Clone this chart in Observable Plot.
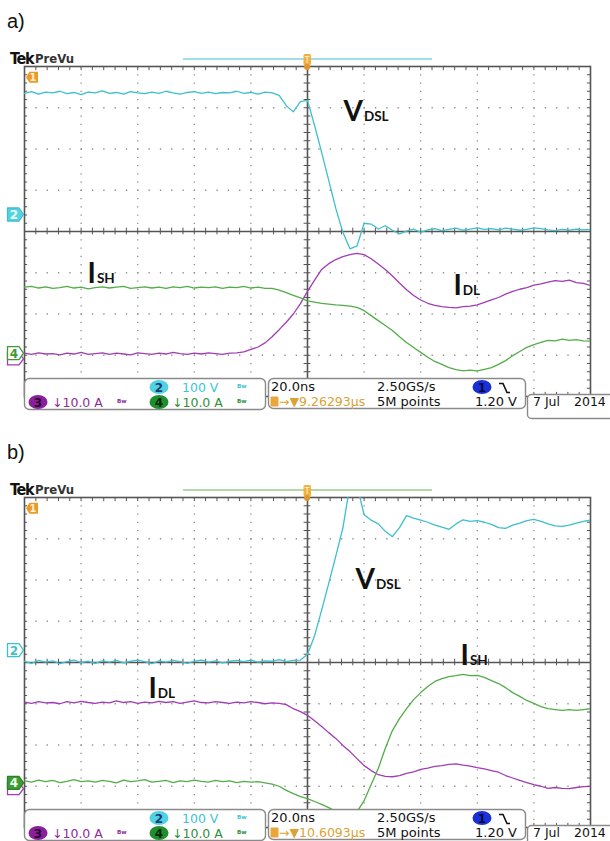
<!DOCTYPE html>
<html>
<head>
<meta charset="utf-8">
<script src="https://cdn.jsdelivr.net/npm/d3@7"></script>
<script src="https://cdn.jsdelivr.net/npm/@observablehq/plot@0.6"></script>
<style>
  html, body { margin: 0; padding: 0; background: #fff; }
  #page { position: relative; width: 610px; height: 841px; overflow: hidden; background: #fff; }
  .panel { position: absolute; left: 0; width: 610px; height: 410px; }
  .panel svg { position: absolute; left: 0; top: 0; }
  .tag { position: absolute; left: 7px; font-family: "Liberation Sans", Arial, sans-serif; font-size: 20px; line-height: 20px; color: #111; }
</style>
</head>
<body>
<div id="page"></div>
<script>
// ---------- data (x in ns, trigger at 0; y in screen divisions, centre = 0) ----------
const time = [
  -100,-97.5,-95,-92.5,-90,-87.5,-85,-82.5,-80,-77.5,
  -75,-72.5,-70,-67.5,-65,-62.5,-60,-57.5,-55,-52.5,
  -50,-47.5,-45,-42.5,-40,-37.5,-35,-32.5,-30,-27.5,
  -25,-22.5,-20,-17.5,-15,-12.5,-10,-7.5,-5,-2.5,
  0,2.5,5,7.5,10,12.5,15,17.5,20,22.5,
  25,27.5,30,32.5,35,37.5,40,42.5,45,47.5,
  50,52.5,55,57.5,60,62.5,65,67.5,70,72.5,
  75,77.5,80,82.5,85,87.5,90,92.5,95,97.5,
  100
];

// panel a) channel 2 (V_DSL), channel 4 (I_SH), channel 3 (I_DL)
const aVdsl = [
  3.35,3.39,3.33,3.38,3.36,3.40,3.34,3.37,3.32,3.38,
  3.36,3.41,3.35,3.37,3.33,3.39,3.36,3.34,3.38,3.35,
  3.40,3.36,3.33,3.37,3.39,3.35,3.38,3.34,3.37,3.36,
  3.40,3.35,3.37,3.33,3.38,
  3.36,3.30,3.05,2.90,3.15,3.18,2.57,1.92,1.24,0.56,-0.02,-0.42,-0.35,0.20,0.18,0.06,0.14,0.03,-0.06,0.01,0.06,-0.02,
  0.04,0.07,0.02,0.05,0.08,0.03,0.06,0.09,0.05,0.07,0.04,0.08,0.06,0.03,0.05,0.09,0.07,0.04,0.02,0.05,0.03,0.06,0.04,0.05
];
const aIsh = [
  -1.35,-1.33,-1.37,-1.34,-1.38,-1.36,-1.33,-1.37,-1.35,-1.39,
  -1.36,-1.34,-1.37,-1.35,-1.33,-1.38,-1.36,-1.34,-1.37,-1.35,
  -1.38,-1.34,-1.36,-1.33,-1.37,-1.35,-1.36,-1.34,-1.38,-1.35,
  -1.36,-1.33,-1.37,-1.35,-1.38,
  -1.38,-1.42,-1.48,-1.55,-1.61,-1.68,-1.71,-1.74,-1.76,-1.78,
  -1.79,-1.81,-1.84,-1.92,-2.04,-2.16,-2.28,-2.40,-2.55,-2.69,
  -2.81,-2.93,-3.05,-3.15,-3.22,-3.30,-3.35,-3.38,-3.36,-3.38,
  -3.34,-3.30,-3.22,-3.13,-3.01,-2.91,-2.81,-2.74,-2.69,-2.64,
  -2.65,-2.61,-2.64,-2.62,-2.65,-2.66
];
const aIdl = [
  -2.95,-2.98,-2.94,-2.97,-2.96,-2.99,-2.95,-2.97,-2.93,-2.98,
  -2.96,-2.94,-2.98,-2.95,-2.97,-2.99,-2.94,-2.96,-2.98,-2.95,
  -2.97,-2.93,-2.96,-2.98,-2.95,-2.97,-2.94,-2.96,-2.98,-2.95,
  -2.94,-2.92,-2.86,-2.80,-2.70,-2.55,-2.38,-2.20,-2.00,-1.75,
  -1.45,-1.18,-0.92,-0.78,-0.68,-0.61,-0.56,-0.53,-0.56,-0.66,
  -0.79,-0.92,-1.08,-1.25,-1.41,-1.55,-1.66,-1.74,-1.79,-1.82,
  -1.84,-1.85,-1.82,-1.81,-1.78,-1.72,-1.66,-1.60,-1.52,-1.45,
  -1.40,-1.36,-1.30,-1.27,-1.23,-1.19,-1.21,-1.18,-1.24,-1.26,
  -1.31
];

// panel b)
const bVdsl = [
  0.03,-0.02,0.05,0.01,0.04,-0.03,0.02,0.06,0.00,0.03,
  -0.02,0.04,0.01,0.05,-0.01,0.03,0.06,0.02,-0.03,0.04,
  0.01,0.05,0.02,-0.02,0.03,0.06,0.01,0.04,-0.01,0.03,
  0.05,0.02,0.06,0.01,0.04,0.03,0.07,0.02,0.05,0.06,
  0.20,0.65,1.27,1.92,2.58,3.26,4.3,4.3,3.58,3.45,
  3.36,3.18,3.05,3.27,3.56,3.50,3.45,3.40,3.33,3.28,
  3.23,3.36,3.46,3.42,3.44,3.40,3.35,3.27,3.25,3.33,
  3.38,3.44,3.47,3.42,3.36,3.31,3.30,3.33,3.38,3.42,
  3.45
];
const bIdl = [
  -0.96,-0.99,-0.95,-0.98,-0.97,-1.00,-0.95,-0.98,-0.94,-0.97,
  -0.99,-0.96,-0.98,-0.93,-0.97,-0.95,-0.99,-0.96,-0.98,-0.94,
  -0.97,-0.95,-0.99,-0.96,-0.93,-0.97,-0.98,-0.95,-0.97,-0.99,
  -0.96,-0.98,-0.95,-0.97,-1.00,-0.98,
  -0.99,-1.02,-1.12,-1.19,-1.28,-1.41,-1.55,-1.70,-1.84,-2.01,
  -2.16,-2.33,-2.50,-2.62,-2.72,-2.76,-2.77,-2.74,-2.69,-2.65,
  -2.59,-2.56,-2.52,-2.50,-2.47,-2.46,-2.49,-2.51,-2.55,-2.58,
  -2.62,-2.66,-2.74,-2.80,-2.86,-2.91,-2.96,-3.00,-3.05,-3.03,
  -3.05,-3.06,-3.03,-3.01,-3.00
];
const bIsh = [
  -2.87,-2.90,-2.85,-2.89,-2.86,-2.91,-2.88,-2.84,-2.89,-2.87,
  -2.90,-2.86,-2.88,-2.92,-2.85,-2.89,-2.87,-2.84,-2.90,-2.88,
  -2.86,-2.91,-2.87,-2.89,-2.85,-2.88,-2.90,-2.86,-2.89,-2.87,
  -2.91,-2.88,-2.90,-2.89,
  -2.92,-2.95,-3.00,-3.10,-3.18,-3.25,-3.30,-3.37,-3.44,-3.52,
  -3.61,-3.71,-3.75,-3.62,-3.35,-2.96,-2.57,-2.08,-1.65,-1.36,
  -1.12,-0.90,-0.73,-0.58,-0.46,-0.39,-0.34,-0.32,-0.29,-0.32,
  -0.31,-0.36,-0.44,-0.51,-0.61,-0.73,-0.82,-0.92,-0.99,-1.07,
  -1.12,-1.14,-1.16,-1.14,-1.16,-1.14,-1.12
];

// trace annotations (main letter | subscript)
const aLabels = [
  {t: 12.7, v: 2.69, txt: "V|DSL"},
  {t: -77.7, v: -1.24, txt: "I|SH"},
  {t: 51.6, v: -1.55, txt: "I|DL"}
];
const bLabels = [
  {t: 17.0, v: 1.79, txt: "V|DSL"},
  {t: 54.1, v: -0.07, txt: "I|SH"},
  {t: -56.2, v: -0.85, txt: "I|DL"}
];

// channel ground reference levels (divisions)
const aRefs = {ch1: 3.73, ch2: 0.40, ch3: -3.10, ch4: -2.96};
const bRefs = {ch1: 3.73, ch2: 0.29, ch3: -3.07, ch4: -2.93};

// scope readouts
const chScale = {ch2: "100 V", ch3: "\u219310.0 A", ch4: "\u219310.0 A"};
const horiz = {timeDiv: "20.0ns", rate: "2.50GS/s", points: "5M points", level: "1.20 V", date: ["7 Jul", "2014"]};
const aDelay = "9.26293\u00b5s";
const bDelay = "10.6093\u00b5s";

// graticule
const gridX = [-80, -60, -40, -20, 20, 40, 60, 80];
const gridY = [-3, -2, -1, 1, 2, 3];
const minorX = d3.range(-96, 97, 4);
const minorY = d3.range(-3.8, 3.81, 0.2).filter(v => Math.abs(v) > 0.05);

const COL = {cyan: "#3dbfcc", magenta: "#a03cb4", green: "#52ad48", grid: "#8e8e8e", frame: "#555"};

function buildPanel(cfg) {
  const plot = Plot.plot({
    width: 610, height: 410,
    marginTop: 66, marginBottom: 14, marginLeft: 24, marginRight: 20,
    x: {domain: [-100, 100], axis: null},
    y: {domain: [-4, 4], axis: null},
    style: {fontFamily: "Lato, 'Open Sans', sans-serif", background: "white", overflow: "visible"},
    marks: [
      Plot.ruleY(gridY, {stroke: COL.grid, strokeWidth: 1.3, strokeDasharray: "1.3,10.02"}),
      Plot.ruleX(gridX, {stroke: COL.grid, strokeWidth: 1.3, strokeDasharray: "1.3,6.95"}),
      Plot.ruleX(minorX, {y1: -0.08, y2: 0.08, stroke: COL.frame, strokeWidth: 1}),
      Plot.ruleY(minorY, {x1: -1.2, x2: 1.2, stroke: COL.frame, strokeWidth: 1}),
      Plot.ruleX(minorX, {y1: 3.9, y2: 4, stroke: COL.frame, strokeWidth: 1}),
      Plot.ruleX(minorX, {y1: -4, y2: -3.9, stroke: COL.frame, strokeWidth: 1}),
      Plot.ruleY(minorY, {x1: -100, x2: -98.9, stroke: COL.frame, strokeWidth: 1}),
      Plot.ruleY(minorY, {x1: 98.9, x2: 100, stroke: COL.frame, strokeWidth: 1}),
      Plot.ruleY([0], {stroke: COL.frame, strokeWidth: 1.6}),
      Plot.ruleX([0], {stroke: COL.frame, strokeWidth: 1.6}),
      Plot.frame({stroke: COL.frame, strokeWidth: 1.6}),
      Plot.lineY(cfg.ch3, {x: time, stroke: COL.magenta, strokeWidth: 1.3, clip: true}),
      Plot.lineY(cfg.ch4, {x: time, stroke: COL.green, strokeWidth: 1.3, clip: true}),
      Plot.lineY(cfg.ch2, {x: time, stroke: COL.cyan, strokeWidth: 1.3, clip: true}),
      Plot.text(cfg.labels, {x: "t", y: "v", text: "txt", textAnchor: "start", lineAnchor: "bottom",
        fontSize: 28, fontWeight: "bold", fill: "#111"})
    ]
  });

  const svg = d3.select(plot);
  // subscripts
  svg.selectAll("text").each(function () {
    const s = this.textContent;
    if (s.includes("|")) {
      const [m, sub] = s.split("|");
      const el = d3.select(this).text(null);
      el.append("tspan").text(m);
      el.append("tspan").attr("font-size", 13.5).attr("dx", 1).text(sub);
    }
  });

  const ys = plot.scale("y");
  const yp = v => ys.apply(v);

  const deco = svg.append("g").attr("text-anchor", "start");
  // header
  deco.append("text").attr("x", 10).attr("y", 64)
    .attr("font-family", "'Liberation Sans Narrow','DejaVu Sans Condensed','Liberation Sans',sans-serif")
    .attr("font-weight", "bold").attr("font-size", 16).attr("fill", "#111").attr("letter-spacing", -1.2).text("Tek");
  deco.append("text").attr("x", 35).attr("y", 63)
    .attr("font-family", "'Liberation Sans Narrow','DejaVu Sans Condensed','Liberation Sans',sans-serif")
    .attr("font-weight", "bold").attr("font-size", 13).attr("fill", "#333").text("PreVu");
  deco.append("line").attr("x1", 183).attr("x2", 432).attr("y1", 59).attr("y2", 59)
    .attr("stroke", cfg.barColor).attr("stroke-width", 2.2);
  // trigger position marker
  deco.append("rect").attr("x", 303.5).attr("y", 54).attr("width", 7.5).attr("height", 11).attr("rx", 1.5).attr("fill", "#f0b040");
  deco.append("circle").attr("cx", 307).attr("cy", 67).attr("r", 3).attr("fill", "#e0962a");
  deco.append("text").attr("x", 307.2).attr("y", 62.5).attr("text-anchor", "middle").attr("font-size", 8)
    .attr("font-family", "DejaVu Sans").attr("fill", "#fff3d6").text("T");

  // channel reference markers
  const mk = (y, fill, stroke, label, txtFill) => {
    deco.append("path").attr("d", `M7.5,${y - 6.5}H19L23.5,${y}L19,${y + 6.5}H7.5Z`)
      .attr("fill", fill).attr("stroke", stroke).attr("stroke-width", 1.3).attr("stroke-linejoin", "round");
    deco.append("text").attr("x", 14).attr("y", y + 4.5).attr("text-anchor", "middle")
      .attr("font-family", "DejaVu Sans").attr("font-weight", "bold").attr("font-size", 12).attr("fill", txtFill).text(label);
  };
  const y3 = yp(cfg.refs.ch3);
  deco.append("path").attr("d", `M7.5,${y3 - 6}H19L23.5,${y3}L19,${y3 + 6}H7.5Z`)
    .attr("fill", "#fff").attr("stroke", COL.magenta).attr("stroke-width", 1.3);
  if (cfg.ch4Filled) mk(yp(cfg.refs.ch4), "#3f9a36", "#2e7f28", "4", "#e8ffe4");
  else mk(yp(cfg.refs.ch4), "#fff", "#3f9a36", "4", "#3f9a36");
  if (cfg.ch2Filled) mk(yp(cfg.refs.ch2), "#55d3e0", "#3fbfcc", "2", "#eaffff");
  else mk(yp(cfg.refs.ch2), "#fff", "#3fbfcc", "2", "#3fbfcc");
  const y1 = yp(cfg.refs.ch1);
  deco.append("path").attr("d", `M26,${y1}L29.5,${y1 - 5.5}H38V${y1 + 5.5}H29.5Z`).attr("fill", "#eb9a2a");
  deco.append("text").attr("x", 33).attr("y", y1 + 4).attr("text-anchor", "middle")
    .attr("font-family", "DejaVu Sans").attr("font-weight", "bold").attr("font-size", 10).attr("fill", "#fff0d0").text("1");

  // status bar
  const sb = svg.append("g").attr("font-family", "'DejaVu Sans', sans-serif").attr("text-anchor", "start");
  sb.append("rect").attr("x", 24.5).attr("y", 378.5).attr("width", 241).attr("height", 31).attr("rx", 5)
    .attr("fill", "#fff").attr("stroke", "#8a8a8a").attr("stroke-width", 1.4);
  sb.append("rect").attr("x", 268.5).attr("y", 378.5).attr("width", 257).attr("height", 30).attr("rx", 5)
    .attr("fill", "#fff").attr("stroke", "#8a8a8a").attr("stroke-width", 1.4);
  sb.append("rect").attr("x", 527.5).attr("y", 394.5).attr("width", 100).attr("height", 24).attr("rx", 4)
    .attr("fill", "#fff").attr("stroke", "#8a8a8a").attr("stroke-width", 1.4);

  const badge = (cx, cy, fill, label, tf) => {
    sb.append("ellipse").attr("cx", cx).attr("cy", cy).attr("rx", 9.5).attr("ry", 7).attr("fill", fill);
    sb.append("text").attr("x", cx).attr("y", cy + 4.5).attr("text-anchor", "middle").attr("font-size", 12)
      .attr("font-weight", "bold").attr("fill", tf).text(label);
  };
  const txt = (x, y, s, fill, opts = {}) => {
    const t = sb.append("text").attr("x", x).attr("y", y).attr("font-size", opts.size || 13).attr("fill", fill)
      .attr("text-anchor", opts.anchor || "start").text(s);
    if (opts.weight) t.attr("font-weight", opts.weight);
    return t;
  };
  badge(159, 387, "#4fd2e2", "2", "#1b3c70");
  txt(182, 392, chScale.ch2, "#3cc4d4", {size: 12.5});
  txt(237, 391, "\u1d2e\u02b7", "#3cc4d4", {size: 9, weight: "bold"});
  badge(38, 402, "#8a1f9c", "3", "#2a0630");
  txt(52, 406.5, chScale.ch3, "#8d2c9c", {size: 12.5});
  txt(117, 406, "\u1d2e\u02b7", "#8d2c9c", {size: 9, weight: "bold"});
  badge(159, 402, "#1e8f2c", "4", "#062a0a");
  txt(172, 406.5, chScale.ch4, "#2f8f3a", {size: 12.5});
  txt(237, 406, "\u1d2e\u02b7", "#2f8f3a", {size: 9, weight: "bold"});

  txt(271, 391, horiz.timeDiv, "#111");
  txt(377, 391, horiz.rate, "#111");
  badge(482, 387, "#1830d6", "1", "#000a40");
  sb.append("path").attr("d", "M499,383.5H503L507,392.5H510").attr("fill", "none").attr("stroke", "#111").attr("stroke-width", 1.6);
  sb.append("rect").attr("x", 270.5).attr("y", 396.5).attr("width", 8).attr("height", 10).attr("rx", 1).attr("fill", "#eaa63a");
  txt(279, 406, "\u2192\u25bc" + cfg.delay, "#dba234", {size: 12.5});
  txt(377, 406, horiz.points, "#111");
  txt(517, 406, horiz.level, "#111", {anchor: "end"});
  txt(533, 406, horiz.date[0], "#111", {size: 12.5});
  txt(574, 406, horiz.date[1], "#111", {size: 12.5});

  return plot;
}

const page = document.getElementById("page");
const panels = [
  {top: 0, tag: "a)", ch2: aVdsl, ch3: aIdl, ch4: aIsh, labels: aLabels, refs: aRefs, delay: aDelay,
   barColor: "#9fe0e8", ch2Filled: true, ch4Filled: false},
  {top: 431, tag: "b)", ch2: bVdsl, ch3: bIdl, ch4: bIsh, labels: bLabels, refs: bRefs, delay: bDelay,
   barColor: "#b2d9a8", ch2Filled: false, ch4Filled: true}
];
for (const cfg of panels) {
  const div = document.createElement("div");
  div.className = "panel";
  div.style.top = cfg.top + "px";
  div.appendChild(buildPanel(cfg));
  const tag = document.createElement("div");
  tag.className = "tag";
  tag.style.top = "11px";
  tag.textContent = cfg.tag;
  div.appendChild(tag);
  page.appendChild(div);
}
</script>
</body>
</html>
